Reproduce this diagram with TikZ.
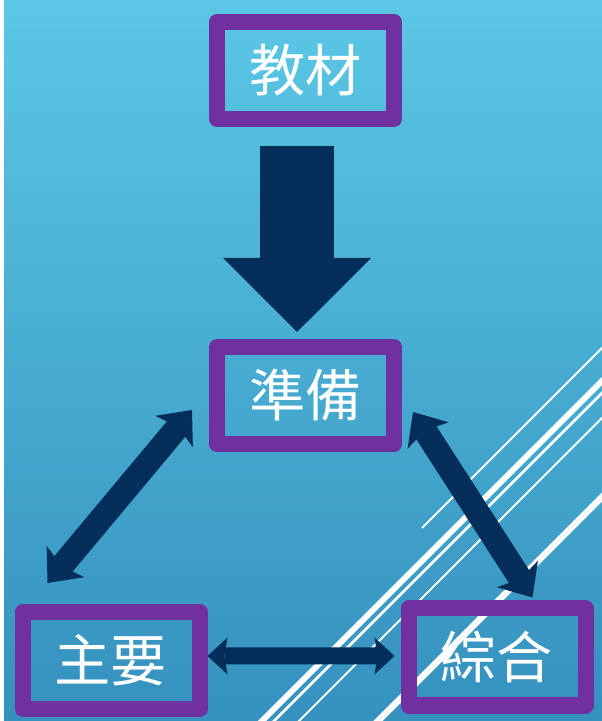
\documentclass[tikz,border=0pt]{standalone}
\usepackage{fontspec}
\newfontfamily\cjk{Noto Sans CJK TC}
\definecolor{BoxPurple}{RGB}{112,48,160}
\definecolor{ArrowNavy}{RGB}{6,46,90}
\definecolor{BgTop}{RGB}{91,199,229}
\definecolor{BgBottom}{RGB}{53,145,190}
\usepackage{tikz}
\usetikzlibrary{positioning,arrows.meta,calc,backgrounds}
\tikzset{>=latex}
\tikzset{
    box/.style={draw=BoxPurple, line width=0.32cm, line join=round, minimum width=3.54cm,
        minimum height=1.94cm, inner sep=0pt, text=white, font=\cjk\fontsize{32}{32}\selectfont},
    twoway/.style={draw=ArrowNavy, line width=0.48cm,
        {Stealth[length=0.56cm, width=0.98cm, inset=0.12cm, line width=0pt]}-{Stealth[length=0.56cm, width=0.98cm, inset=0.12cm, line width=0pt]}},
}

\begin{document}
\begin{tikzpicture}[>=latex,scale=1.0]
        \useasboundingbox (0,0) rectangle (12.04,14.42);
        % boxes
        \node[box] at (6.11,13.01) (mat) {教材};
        \node[box] at (6.11,6.51) (prep) {準備};
        \node[box] at (2.22,1.21) (main) {主要};
        \node[box] at (9.94,1.28) (comp) {綜合};
        % arrows
        \draw[ArrowNavy, line width=1.48cm, -{Triangle[length=1.48cm, width=2.96cm, line width=0pt]}]
            ([xshift=-0.17cm,yshift=-0.38cm]mat.south) -- ([xshift=-0.17cm,yshift=0.14cm]prep.north);
        \draw[twoway] ([shift={(-0.34,0.84)}]prep.south west) -- ([shift={(0.66,0.42)}]main.north west);
        \draw[twoway] ([shift={(0.22,0.80)}]prep.south east) -- ([shift={(-1.22,0.06)}]comp.north east);
        \draw[twoway, line width=0.34cm,
            {Stealth[length=0.4cm, width=0.74cm, inset=0.06cm, line width=0pt]}-{Stealth[length=0.4cm, width=0.74cm, inset=0.06cm, line width=0pt]}]
            ([yshift=0.09cm]main.east) -- ([shift={(-0.12,0.02)}]comp.west);
        \begin{scope}[on background layer]
            \fill[white] (0,0) rectangle (12.04,14.42);
            \shade[top color=BgTop, bottom color=BgBottom] (0.08,0) rectangle (12.04,14.42);
            \clip (0.08,0) rectangle (12.04,14.42);
            % diagonal stripes
            \draw[white, line width=0.04cm] (8.44,3.86) -- (12.5,7.92);
            \foreach \off/\wd in {5.24/0.12, 5.48/0.05, 5.98/0.04, 7.56/0.13}
                \draw[white, line width=\wd cm] (\off-0.3,-0.3) -- (12.5,12.5-\off);
        \end{scope}
    \end{tikzpicture}
\end{document}
